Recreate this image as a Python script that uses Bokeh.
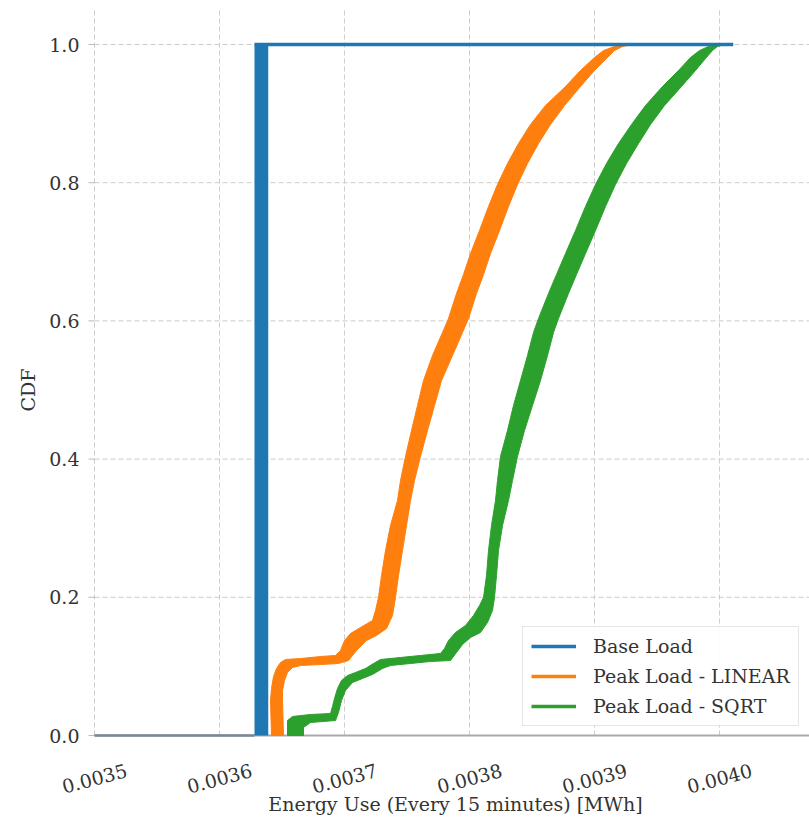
import math
import numpy as np
from bokeh.plotting import figure
from bokeh.models import Legend, LegendItem, Range1d
from bokeh.core.properties import value
from bokeh.embed import file_html
from bokeh.resources import INLINE

# ---------------- data ----------------
x_ticks = [0.0035, 0.0036, 0.0037, 0.0038, 0.0039, 0.0040]
x_tick_labels = ["0.0035", "0.0036", "0.0037", "0.0038", "0.0039", "0.0040"]
y_ticks = [0.0, 0.2, 0.4, 0.6, 0.8, 1.0]
y_tick_labels = ["0.0", "0.2", "0.4", "0.6", "0.8", "1.0"]
x_label = "Energy Use (Every 15 minutes) [MWh]"
y_label = "CDF"

series_names = ["Base Load", "Peak Load - LINEAR", "Peak Load - SQRT"]

# Base load: all values in a narrow band, CDF is a vertical step
base_start = 0.0035
base_band_left = 0.003628
base_band_right = 0.003639
base_end = 0.004011

# Peak Load - LINEAR: band of CDF curves (upper-left edge and lower-right edge)
linear_left_x = [0.0036416, 0.0036408, 0.0036416, 0.0036432, 0.0036456,
                 0.0036488, 0.0036528, 0.0036648, 0.0036808, 0.0036928,
                 0.0036968, 0.0037000, 0.0037048, 0.0037128, 0.0037224,
                 0.0037248, 0.0037272, 0.0037296, 0.0037328, 0.0037368,
                 0.0037424, 0.0037448, 0.0037488, 0.0037536, 0.0037584,
                 0.0037632, 0.0037704, 0.0037784, 0.0037832, 0.0037896,
                 0.0037952, 0.0038008, 0.0038080, 0.0038152, 0.0038224,
                 0.0038304, 0.0038392, 0.0038488, 0.0038608, 0.0038768,
                 0.0038888, 0.0039000, 0.0039072, 0.0039160, 0.0039272]
linear_left_y = [0.0, 0.0507, 0.0680, 0.0854, 0.0970,
                 0.1056, 0.1100, 0.1114, 0.1143, 0.1158,
                 0.1230, 0.1375, 0.1476, 0.1563, 0.1664,
                 0.1809, 0.1997, 0.2315, 0.2677, 0.3039,
                 0.3401, 0.3690, 0.4038, 0.4414, 0.4776,
                 0.5137, 0.5499, 0.5832, 0.6035, 0.6397,
                 0.6671, 0.6975, 0.7308, 0.7656, 0.7974,
                 0.8278, 0.8567, 0.8842, 0.9117, 0.9392,
                 0.9624, 0.9812, 0.9913, 0.9971, 1.0]
linear_right_x = [0.0036512, 0.0036504, 0.0036504, 0.0036520, 0.0036544,
                  0.0036584, 0.0036648, 0.0036808, 0.0036952, 0.0037032,
                  0.0037096, 0.0037176, 0.0037256, 0.0037336, 0.0037384,
                  0.0037408, 0.0037432, 0.0037464, 0.0037496, 0.0037528,
                  0.0037560, 0.0037608, 0.0037664, 0.0037720, 0.0037776,
                  0.0037864, 0.0037944, 0.0037992, 0.0038056, 0.0038112,
                  0.0038168, 0.0038240, 0.0038312, 0.0038384, 0.0038464,
                  0.0038552, 0.0038648, 0.0038760, 0.0038888, 0.0039000,
                  0.0039096, 0.0039160, 0.0039224, 0.0039304]
linear_right_y = [0.0, 0.0507, 0.0651, 0.0796, 0.0912,
                  0.0984, 0.1013, 0.1027, 0.1042, 0.1085,
                  0.1230, 0.1375, 0.1447, 0.1548, 0.1737,
                  0.1997, 0.2315, 0.2677, 0.3039, 0.3401,
                  0.3690, 0.4038, 0.4414, 0.4776, 0.5137,
                  0.5499, 0.5832, 0.6035, 0.6397, 0.6671,
                  0.6975, 0.7308, 0.7656, 0.7974, 0.8278,
                  0.8567, 0.8842, 0.9117, 0.9392, 0.9624,
                  0.9797, 0.9913, 0.9971, 1.0]

# Peak Load - SQRT
sqrt_left_x = [0.0036544, 0.0036544, 0.0036584, 0.0036728, 0.0036888,
               0.0036904, 0.0036920, 0.0036944, 0.0036976, 0.0037024,
               0.0037088, 0.0037168, 0.0037232, 0.0037288, 0.0037448,
               0.0037608, 0.0037768, 0.0037800, 0.0037832, 0.0037888,
               0.0037968, 0.0038032, 0.0038080, 0.0038112, 0.0038136,
               0.0038152, 0.0038176, 0.0038208, 0.0038224, 0.0038248,
               0.0038304, 0.0038352, 0.0038408, 0.0038464, 0.0038512,
               0.0038552, 0.0038632, 0.0038696, 0.0038768, 0.0038848,
               0.0038928, 0.0039008, 0.0039096, 0.0039192, 0.0039296,
               0.0039408, 0.0039544, 0.0039672, 0.0039768, 0.0039840,
               0.0039912, 0.0040024]
sqrt_left_y = [0.0, 0.0217, 0.0275, 0.0304, 0.0318,
               0.0420, 0.0535, 0.0680, 0.0796, 0.0868,
               0.0912, 0.0970, 0.1042, 0.1100, 0.1129,
               0.1158, 0.1187, 0.1259, 0.1375, 0.1491,
               0.1592, 0.1737, 0.1881, 0.1997, 0.2315,
               0.2677, 0.3039, 0.3401, 0.3690, 0.4038,
               0.4414, 0.4776, 0.5137, 0.5499, 0.5832,
               0.6035, 0.6397, 0.6671, 0.6975, 0.7308,
               0.7656, 0.7974, 0.8278, 0.8567, 0.8842,
               0.9117, 0.9392, 0.9624, 0.9812, 0.9913,
               0.9971, 1.0]
sqrt_right_x = [0.0036672, 0.0036672, 0.0036728, 0.0036928, 0.0036952,
                0.0036976, 0.0037008, 0.0037064, 0.0037144, 0.0037224,
                0.0037304, 0.0037368, 0.0037528, 0.0037688, 0.0037848,
                0.0037896, 0.0037944, 0.0038008, 0.0038088, 0.0038144,
                0.0038184, 0.0038200, 0.0038216, 0.0038232, 0.0038264,
                0.0038312, 0.0038344, 0.0038384, 0.0038440, 0.0038504,
                0.0038568, 0.0038624, 0.0038672, 0.0038712, 0.0038792,
                0.0038856, 0.0038928, 0.0039008, 0.0039088, 0.0039168,
                0.0039256, 0.0039352, 0.0039448, 0.0039560, 0.0039696,
                0.0039808, 0.0039888, 0.0039944, 0.0039984, 0.0040040]
sqrt_right_y = [0.0, 0.0116, 0.0188, 0.0217, 0.0333,
                0.0507, 0.0651, 0.0767, 0.0825, 0.0883,
                0.0970, 0.1013, 0.1042, 0.1071, 0.1085,
                0.1201, 0.1317, 0.1418, 0.1491, 0.1635,
                0.1809, 0.1997, 0.2315, 0.2677, 0.3039,
                0.3401, 0.3690, 0.4038, 0.4414, 0.4776,
                0.5137, 0.5499, 0.5832, 0.6035, 0.6397,
                0.6671, 0.6975, 0.7308, 0.7656, 0.7974,
                0.8278, 0.8567, 0.8842, 0.9117, 0.9392,
                0.9624, 0.9797, 0.9913, 0.9971, 1.0]

# ---------------- layout / styles ----------------
W, H = 809, 822
AX_LEFT_PX, AX_ZERO_PX = 94, 735          # where x=0.0035 and CDF=0 sit on the page
PX_PER_X = 125 / 0.0001                   # pixels per x unit
PX_PER_Y = 691.0                          # pixels per CDF unit
X_AXES = (0.0035, 0.0040776)              # axes extent (x)
Y_AXES = (0.0, 1.0492)                    # axes extent (CDF)
X_FRAME = (X_AXES[0] - AX_LEFT_PX / PX_PER_X, X_AXES[0] + (W - AX_LEFT_PX) / PX_PER_X)
Y_FRAME = (-(H - AX_ZERO_PX) / PX_PER_Y, AX_ZERO_PX / PX_PER_Y)
XLABEL_DROP_PX = 68                       # x-axis title centre below CDF = 0

C_BLUE = "#1f77b4"
C_ORANGE = "#ff7f0e"
C_GREEN = "#2ca02c"
FONT = "DejaVu Serif"
TEXT_COLOR = "#333333"
GRID_COLOR = "#cccccc"
FS = "19px"

p = figure(width=W, height=H, output_backend="svg", toolbar_location=None,
           x_axis_type=None, y_axis_type=None,
           x_range=Range1d(*X_FRAME), y_range=Range1d(*Y_FRAME),
           min_border_left=0, min_border_right=0, min_border_top=0, min_border_bottom=0)
p.title.visible = False
p.outline_line_color = None
p.background_fill_color = "white"
p.border_fill_color = "white"

n_x, n_y = len(x_ticks), len(y_ticks)

# dashed grid inside the axes
p.segment(x0=x_ticks, y0=[Y_AXES[0]] * n_x, x1=x_ticks, y1=[Y_AXES[1]] * n_x,
          line_color=GRID_COLOR, line_dash="5 3", line_width=1)
p.segment(x0=[X_AXES[0]] * n_y, y0=y_ticks, x1=[X_AXES[1]] * n_y, y1=y_ticks,
          line_color=GRID_COLOR, line_dash="5 3", line_width=1)

# bottom spine
p.segment(x0=[X_AXES[0]], y0=[0.0], x1=[X_AXES[1]], y1=[0.0],
          line_color="#aaaaaa", line_width=2)

# y tick marks (6 px, outside)
p.segment(x0=[X_AXES[0] - 6 / PX_PER_X] * n_y, y0=y_ticks, x1=[X_AXES[0]] * n_y, y1=y_ticks,
          line_color="#bbbbbb", line_width=1)

# tick labels and axis labels
p.text(x=x_ticks, y=[0.0] * n_x, text=x_tick_labels,
       y_offset=43, angle=0.26, text_align="center", text_baseline="middle",
       text_font=value(FONT), text_font_size=FS, text_color=TEXT_COLOR)
p.text(x=[X_AXES[0]] * n_y, y=y_ticks, text=y_tick_labels,
       x_offset=-15, text_align="right", text_baseline="middle",
       text_font=value(FONT), text_font_size=FS, text_color=TEXT_COLOR)
p.text(x=[(X_AXES[0] + X_AXES[1]) / 2], y=[-XLABEL_DROP_PX / PX_PER_Y], text=[x_label],
       text_align="center", text_baseline="middle",
       text_font=value(FONT), text_font_size=FS, text_color=TEXT_COLOR)
p.text(x=[X_AXES[0]], y=[(y_ticks[0] + y_ticks[-1]) / 2], text=[y_label],
       x_offset=-67, angle=math.pi / 2, text_align="center", text_baseline="middle",
       text_font=value(FONT), text_font_size=FS, text_color=TEXT_COLOR)

# orange band
p.patch(linear_left_x + linear_right_x[::-1], linear_left_y + linear_right_y[::-1],
        fill_color=C_ORANGE, line_color=C_ORANGE, line_width=1)
# green band
p.patch(sqrt_left_x + sqrt_right_x[::-1], sqrt_left_y + sqrt_right_y[::-1],
        fill_color=C_GREEN, line_color=C_GREEN, line_width=1)

# base load
p.line([base_start, base_band_left], [0.0, 0.0], line_color="#7a8896", line_width=2.5)
p.harea(y=[0.0, 1.0], x1=[base_band_left, base_band_left],
        x2=[base_band_right, base_band_right], fill_color=C_BLUE)
r_base = p.line([base_band_left, base_end], [1.0, 1.0], line_color=C_BLUE, line_width=3.5)

# legend proxies (no visible data)
r_lin = p.line(x=[np.nan, np.nan], y=[np.nan, np.nan], line_color=C_ORANGE, line_width=3.5)
r_sqrt = p.line(x=[np.nan, np.nan], y=[np.nan, np.nan], line_color=C_GREEN, line_width=3.5)

legend = Legend(items=[LegendItem(label=series_names[0], renderers=[r_base]),
                       LegendItem(label=series_names[1], renderers=[r_lin]),
                       LegendItem(label=series_names[2], renderers=[r_sqrt])],
                location=(522, 96))
legend.label_text_font = FONT
legend.label_text_font_size = FS
legend.label_text_color = TEXT_COLOR
legend.glyph_width = 45
legend.glyph_height = 22
legend.label_height = 22
legend.label_standoff = 17
legend.spacing = 8
legend.padding = 8
legend.border_line_color = "#cccccc"
legend.border_line_width = 1
legend.background_fill_alpha = 0.9
p.add_layout(legend)

open("out.html", "w").write(file_html(p, INLINE))
